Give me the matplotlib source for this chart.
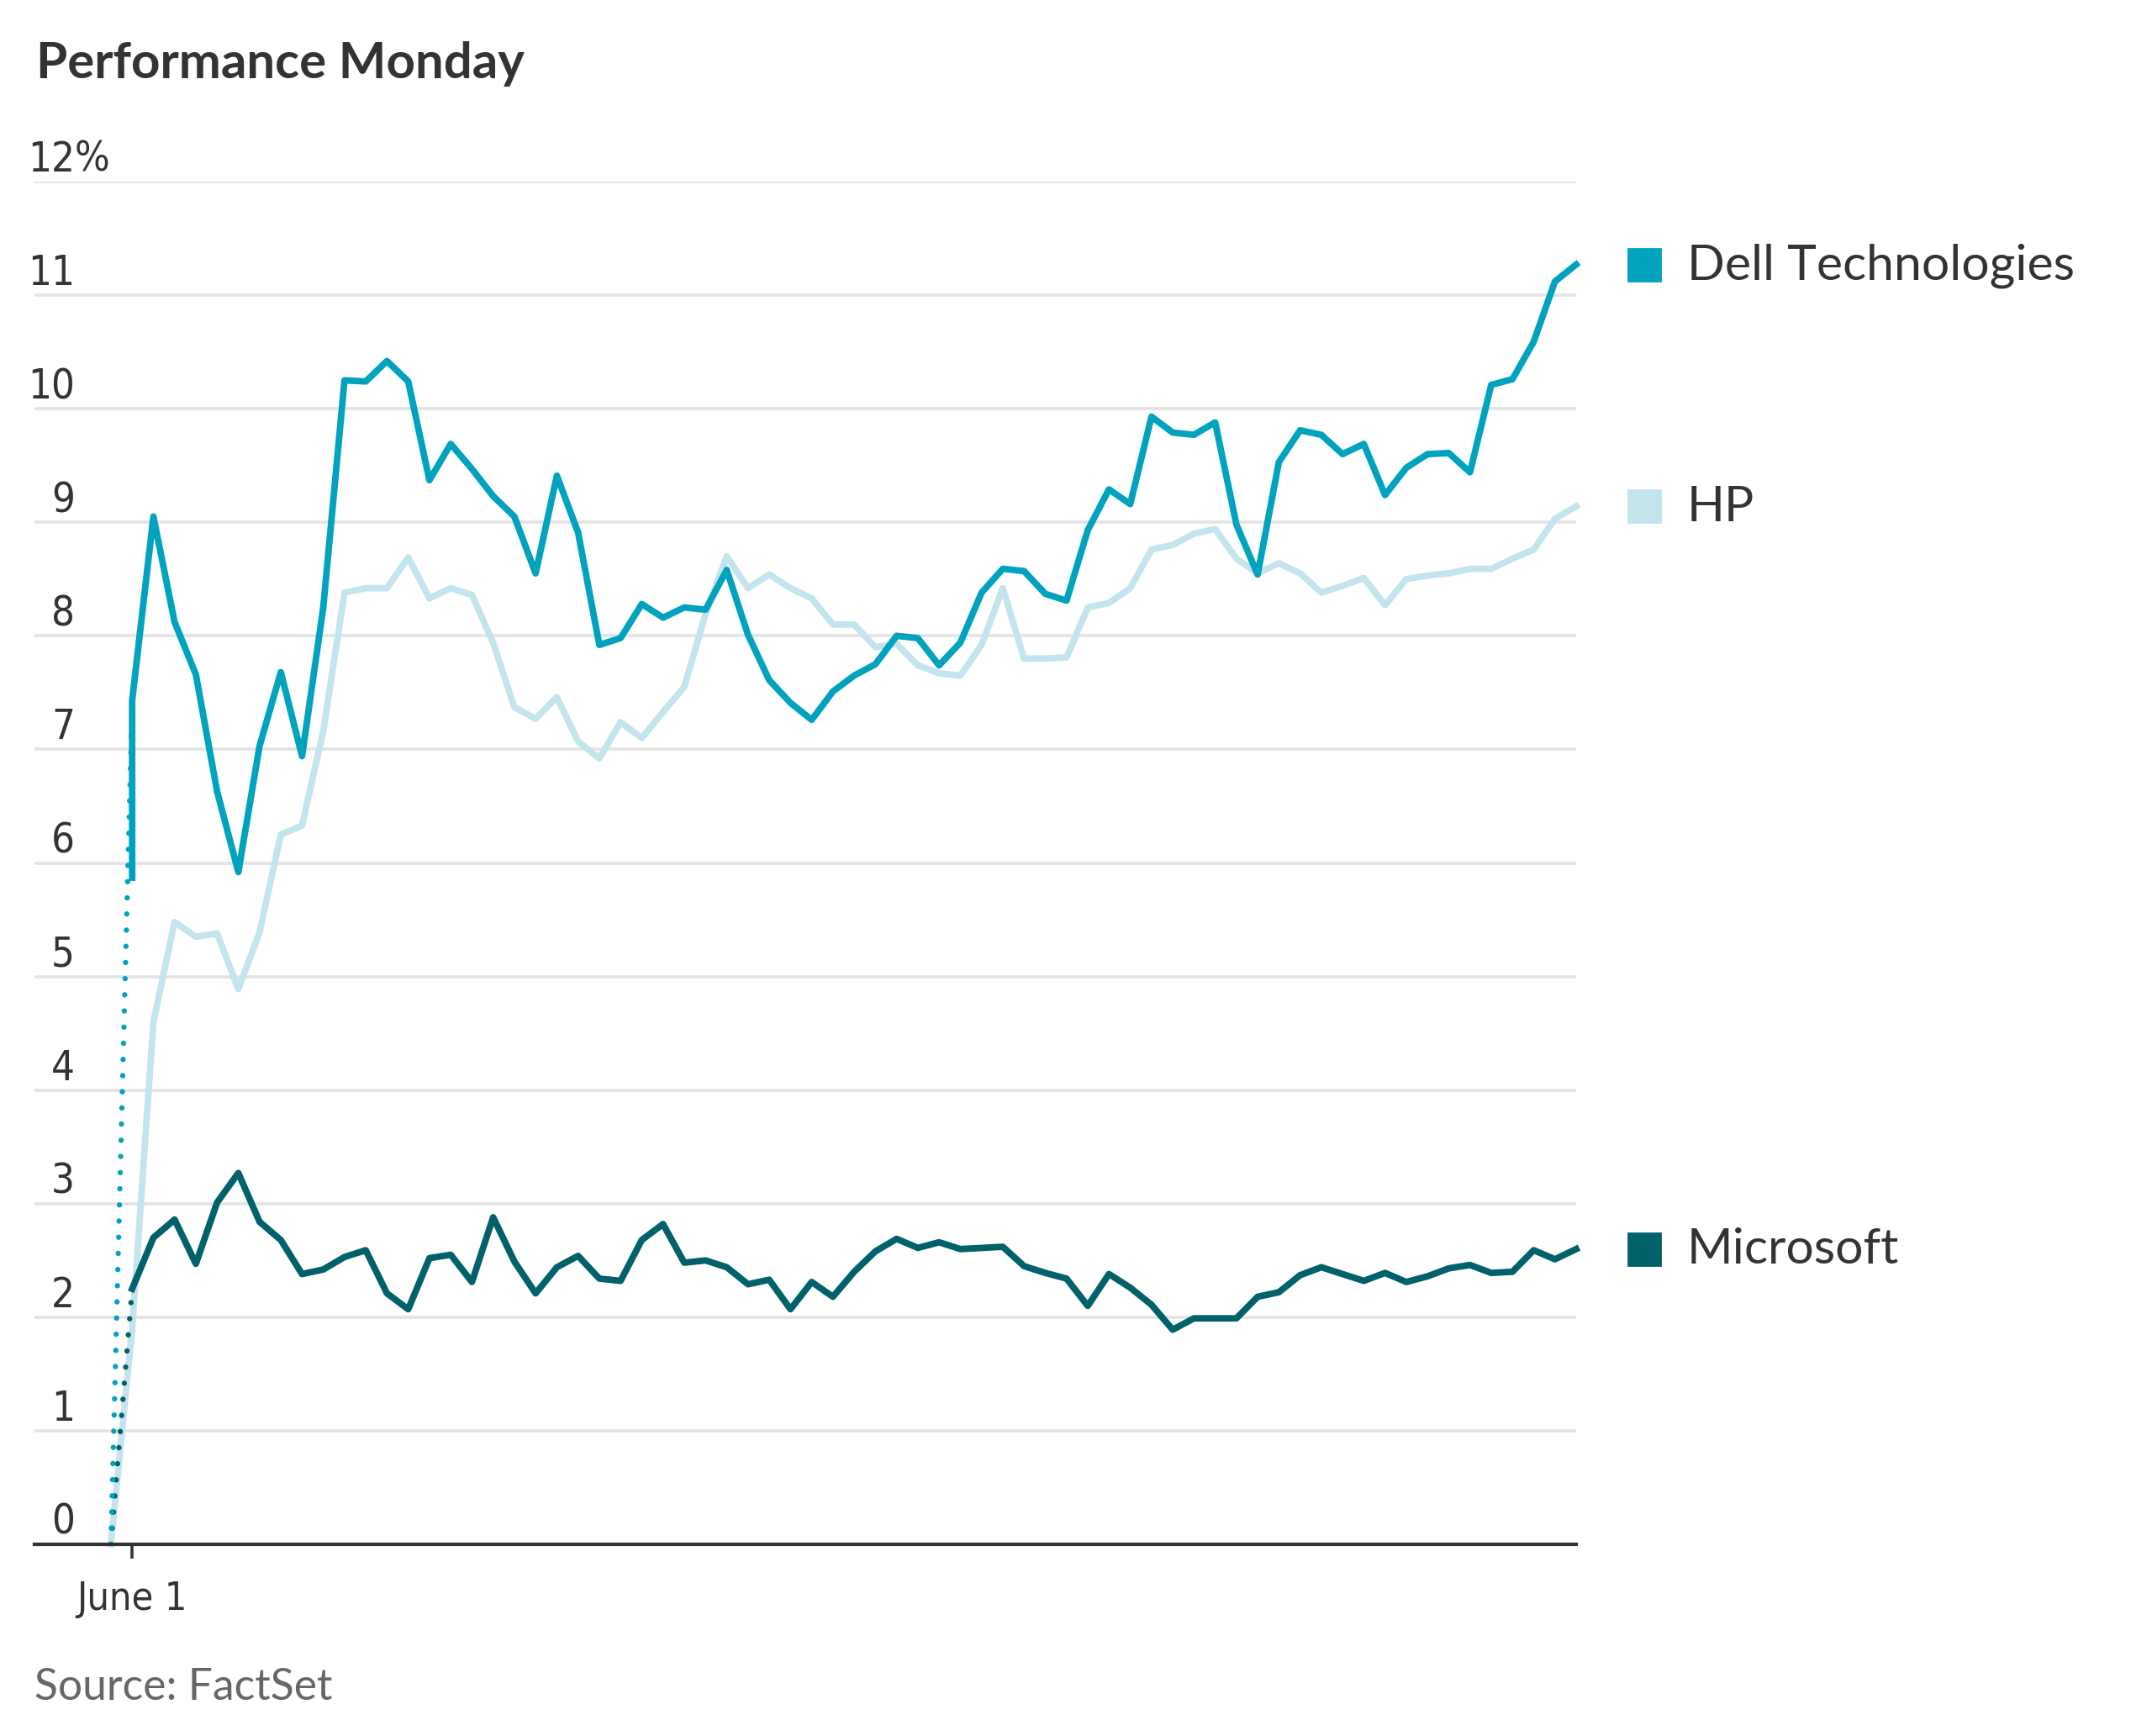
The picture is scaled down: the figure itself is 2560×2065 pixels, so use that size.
import matplotlib
matplotlib.use("Agg")
import matplotlib.pyplot as plt
import matplotlib.transforms as mtransforms
from matplotlib import font_manager
import numpy as np

# percent change vs. previous close, one value per interval from the open
dell = [7.43, 9.05, 8.12, 7.66, 6.63, 5.92, 7.03, 7.68, 6.94, 8.25,
        10.25, 10.24, 10.42, 10.24, 9.37, 9.69, 9.47, 9.23, 9.05, 8.55,
        9.41, 8.91, 7.92, 7.98, 8.28, 8.16, 8.25, 8.23, 8.58, 8.01,
        7.61, 7.41, 7.26, 7.51, 7.65, 7.75, 8.00, 7.98, 7.74, 7.94,
        8.38, 8.59, 8.57, 8.37, 8.31, 8.93, 9.29, 9.16, 9.93, 9.79,
        9.77, 9.88, 8.98, 8.54, 9.53, 9.81, 9.77, 9.60, 9.69, 9.24,
        9.48, 9.60, 9.61, 9.44, 10.21, 10.26, 10.59, 11.12, 11.27]
dell_open_tick = 5.87

hp = [1.90, 4.60, 5.48, 5.35, 5.38, 4.89, 5.39, 6.25, 6.33, 7.16,
      8.38, 8.42, 8.42, 8.69, 8.33, 8.42, 8.36, 7.94, 7.37, 7.27,
      7.46, 7.07, 6.92, 7.24, 7.10, 7.33, 7.55, 8.19, 8.70, 8.42,
      8.54, 8.42, 8.33, 8.10, 8.10, 7.90, 7.93, 7.74, 7.67, 7.65,
      7.92, 8.42, 7.80, 7.80, 7.81, 8.25, 8.29, 8.42, 8.76, 8.80,
      8.90, 8.94, 8.68, 8.55, 8.64, 8.55, 8.38, 8.44, 8.51, 8.27,
      8.50, 8.53, 8.55, 8.59, 8.59, 8.68, 8.76, 9.03, 9.14]

msft = [2.25, 2.70, 2.86, 2.47, 3.01, 3.27, 2.84, 2.68, 2.38, 2.42,
        2.53, 2.59, 2.21, 2.07, 2.52, 2.55, 2.31, 2.88, 2.49, 2.21,
        2.44, 2.54, 2.34, 2.32, 2.68, 2.82, 2.48, 2.50, 2.44, 2.29,
        2.33, 2.07, 2.31, 2.18, 2.40, 2.58, 2.69, 2.61, 2.66, 2.60,
        2.61, 2.62, 2.45, 2.39, 2.34, 2.10, 2.38, 2.26, 2.11, 1.89,
        1.99, 1.99, 1.99, 2.18, 2.22, 2.37, 2.44, 2.38, 2.32, 2.39,
        2.31, 2.36, 2.43, 2.46, 2.39, 2.40, 2.59, 2.51, 2.60]

names = ["Dell Technologies", "HP", "Microsoft"]
colors = ["#00a3be", "#c4e4ed", "#00616a"]
y_ticks = [0, 1, 2, 3, 4, 5, 6, 7, 8, 9, 10, 11, 12]
x_label = "June 1"
title = "Performance Monday"
source = "Source: FactSet"

# narrow face for the axis numbers, if one is around
fonts = font_manager.fontManager.ttflist
names_avail = {f.name for f in fonts}
narrow_kw = {"family": ["Lato", "DejaVu Sans"], "fontweight": "light"}
if "Liberation Sans Narrow" in names_avail:
    narrow_kw = {"family": ["Liberation Sans Narrow", "DejaVu Sans"]}
elif any(f.name == "DejaVu Sans" and f.stretch == "condensed" for f in fonts):
    narrow_kw = {"family": ["DejaVu Sans"], "fontstretch": "condensed"}

WIDE = ["Lato", "DejaVu Sans"]
TXT = "#333333"

fig = plt.figure(figsize=(12.8, 10.325), dpi=200)
W, H = 2560, 2065
ax = fig.add_axes([41 / W, 1 - 1837 / H, (1875 - 41) / W, (1837 - 216) / H])

t = np.arange(len(dell))
prev = -1  # previous close

# grid
for v in y_ticks[1:]:
    ax.axhline(v, color="#e3e3e3", lw=1.3, zorder=0)

# series
ax.plot(np.r_[prev, t], np.r_[0, hp], color=colors[1], lw=2.8,
        zorder=2, clip_on=False)
ax.plot([prev, 0], [0, msft[0]], color=colors[2], lw=2.3,
        linestyle=(0, (0.01, 3.0)), dash_capstyle="round", zorder=3)
ax.plot(t, msft, color=colors[2], lw=2.8, zorder=3, clip_on=False)
ax.plot([prev, 0], [0, dell[0]], color=colors[0], lw=2.3,
        linestyle=(0, (0.01, 3.0)), dash_capstyle="round", zorder=4)
ax.plot(np.r_[0, t], np.r_[dell_open_tick, dell], color=colors[0], lw=2.8,
        zorder=4, clip_on=False)

ax.set_xlim(-4.6, 68)
ax.set_ylim(0, 12)

for s in ["top", "right", "left"]:
    ax.spines[s].set_visible(False)
ax.spines["bottom"].set_color(TXT)
ax.spines["bottom"].set_linewidth(1.5)
ax.spines["bottom"].set_zorder(5)

ax.set_yticks([])
ax.set_xticks([0])
ax.set_xticklabels([""])
ax.tick_params(axis="x", length=6.1, width=1.3, color=TXT, direction="out")

# y labels sitting on the gridlines
ytr = mtransforms.blended_transform_factory(ax.transAxes, ax.transData)
for v in y_ticks:
    ax.text(0.0262, v + 0.09, str(v), transform=ytr, ha="right", va="baseline",
            fontsize=17.6, color=TXT, **narrow_kw)
ax.text(0.0262, 12 + 0.09, "%", transform=ytr, ha="left", va="baseline",
        fontsize=17.6, color=TXT, **narrow_kw)

# x label
xtr = mtransforms.blended_transform_factory(ax.transData, ax.transAxes)
ax.text(0, -78 / 1621, x_label, transform=xtr, ha="center", va="baseline",
        fontsize=16.8, color=TXT, **narrow_kw)

# end labels
for name, col, series in zip(names, colors, [dell, hp, msft]):
    last = series[-1]
    ax.plot([1.0444], [last], marker="s", markersize=14, color=col,
            transform=ytr, clip_on=False, linestyle="none")
    ax.text(1.072, last - 0.13, name, transform=ytr, ha="left", va="baseline",
            fontsize=21.2, family=WIDE, color=TXT)

fig.text(43 / W, 1 - 93 / H, title, ha="left", va="baseline", fontsize=21.6,
         fontweight="bold", family=WIDE, color=TXT)
fig.text(41 / W, 1 - 2022 / H, source, ha="left", va="baseline", fontsize=18.6,
         family=WIDE, color="#666666")

fig.savefig("out.png", dpi=200, facecolor="white")
